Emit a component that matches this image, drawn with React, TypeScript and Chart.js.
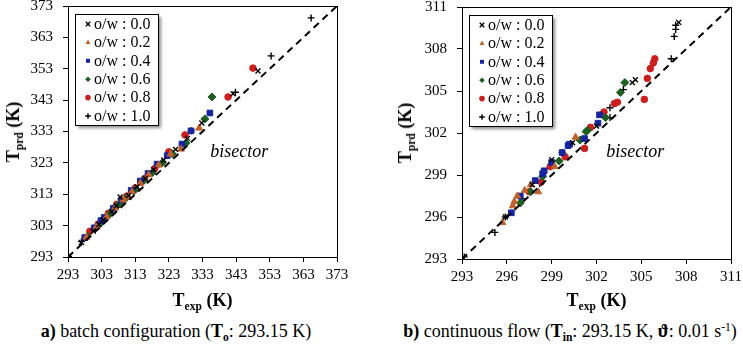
import React, { useEffect, useRef } from 'react';
import { Chart, registerables } from 'chart.js';

Chart.register(...registerables);

// ---------- shared series description ----------
const SERIES_LABELS = ['o/w : 0.0', 'o/w : 0.2', 'o/w : 0.4', 'o/w : 0.6', 'o/w : 0.8', 'o/w : 1.0'];
const SERIES_POINT_STYLES = ['crossRot', 'triangle', 'rect', 'rectRot', 'circle', 'cross'];
const SERIES_COLORS = ['#000000', '#C0602A', '#16249E', '#1E5E22', '#CC1E1E', '#000000'];
const SERIES_RADII = [3.5, 4, 4, 4, 3.3, 3.5];

// ---------- a) batch configuration ----------
const batchTicks = [293, 303, 313, 323, 333, 343, 353, 363, 373];

const batchExp00 = [297.0, 300.5, 302.2, 303.5, 306.0, 307.4, 308.5, 311.0, 313.5, 316.0, 318.5, 321.5, 325.0, 328.5, 332.8, 342.1, 349.5];
const batchPrd00 = [297.6, 301.3, 303.4, 304.8, 307.5, 309.3, 312.1, 312.6, 315.4, 318.0, 320.8, 323.9, 327.3, 330.8, 335.7, 345.0, 352.3];

const batchExp02 = [298.5, 301.5, 304.5, 307.0, 309.5, 311.0, 312.0, 314.5, 317.0, 320.0, 323.5, 326.6, 332.0];
const batchPrd02 = [299.3, 302.6, 305.8, 308.6, 311.2, 312.1, 313.8, 316.5, 319.2, 322.3, 325.8, 327.4, 334.1];

const batchExp04 = [298.0, 300.8, 302.8, 303.8, 306.5, 309.0, 311.8, 314.5, 316.8, 319.5, 322.5, 326.9, 329.6, 335.2];
const batchPrd04 = [299.2, 302.3, 304.6, 305.6, 308.5, 311.2, 314.2, 317.2, 319.6, 322.6, 325.3, 329.0, 333.2, 338.9];

const batchExp06 = [298.8, 302.5, 305.5, 308.0, 309.0, 310.0, 312.8, 315.5, 318.0, 321.0, 324.0, 328.1, 333.7, 335.8];
const batchPrd06 = [299.6, 303.6, 306.8, 309.7, 310.3, 311.6, 314.3, 317.3, 319.8, 323.0, 325.9, 329.3, 337.0, 344.0];

const batchExp08 = [299.5, 302.0, 305.0, 307.5, 310.5, 313.0, 315.8, 318.8, 323.0, 327.8, 340.6, 348.0];
const batchPrd08 = [301.2, 303.5, 306.9, 309.8, 312.4, 315.0, 318.0, 321.2, 326.5, 331.9, 344.0, 353.2];

const batchExp10 = [293.15, 297.0, 301.0, 304.0, 307.0, 309.5, 312.5, 315.0, 318.0, 321.0, 329.6, 342.8, 353.4, 365.3];
const batchPrd10 = [293.15, 297.9, 302.2, 305.5, 308.4, 311.4, 313.9, 316.8, 319.8, 323.0, 333.2, 345.5, 357.1, 369.2];

// ---------- b) continuous flow ----------
const flowTicks = [293, 296, 299, 302, 305, 308, 311];

const flowExp00 = [295.9, 297.7, 299.0, 300.4, 302.0, 304.4, 304.6, 307.5];
const flowPrd00 = [296.0, 298.3, 300.1, 301.3, 302.5, 305.6, 305.8, 309.9];

const flowExp02 = [295.7, 296.4, 296.5, 296.7, 297.2, 297.6, 298.1, 299.2, 300.6];
const flowPrd02 = [295.6, 296.8, 297.1, 297.5, 297.9, 298.3, 297.8, 299.6, 301.7];

const flowExp04 = [296.3, 296.9, 297.9, 298.4, 298.5, 299.0, 299.7, 300.1, 300.2, 301.2, 302.1, 302.2];
const flowPrd04 = [296.3, 297.5, 298.6, 299.1, 299.3, 299.9, 300.6, 301.1, 301.2, 301.6, 302.7, 303.3];

const flowExp06 = [296.9, 297.6, 298.4, 299.5, 300.9, 301.3, 301.4, 302.6, 303.6, 303.9];
const flowPrd06 = [297.0, 297.8, 298.9, 300.0, 301.5, 302.1, 302.2, 303.1, 304.9, 305.6];

const flowExp08 = [297.5, 298.3, 298.9, 299.9, 301.2, 301.6, 302.5, 303.2, 303.4, 305.2, 305.4, 305.6, 305.8, 305.9];
const flowPrd08 = [297.8, 298.5, 299.6, 300.3, 300.9, 302.4, 303.5, 304.1, 304.2, 304.4, 305.9, 306.6, 307.0, 307.3];

const flowExp10 = [293.15, 295.2, 295.9, 297.0, 298.2, 299.7, 302.9, 302.9, 303.8, 307.0, 307.2, 307.3, 307.3];
const flowPrd10 = [293.15, 294.9, 296.0, 297.3, 298.4, 300.6, 303.8, 303.1, 305.1, 307.3, 308.9, 309.4, 309.7];

const FONT = '"Liberation Serif"';

type Area = { left: number; top: number; right: number; bottom: number };

function drawMarker(ctx: CanvasRenderingContext2D, style: string, x: number, y: number, r: number, color: string) {
  ctx.save();
  ctx.fillStyle = color;
  ctx.strokeStyle = color;
  ctx.lineWidth = 1.4;
  ctx.beginPath();
  if (style === 'circle') {
    ctx.arc(x, y, r, 0, Math.PI * 2);
    ctx.fill();
  } else if (style === 'rect') {
    const s = r * Math.SQRT1_2;
    ctx.rect(x - s, y - s, 2 * s, 2 * s);
    ctx.fill();
  } else if (style === 'rectRot') {
    ctx.moveTo(x, y - r);
    ctx.lineTo(x + r, y);
    ctx.lineTo(x, y + r);
    ctx.lineTo(x - r, y);
    ctx.closePath();
    ctx.fill();
  } else if (style === 'triangle') {
    ctx.moveTo(x, y - r);
    ctx.lineTo(x + r * 0.9, y + r * 0.6);
    ctx.lineTo(x - r * 0.9, y + r * 0.6);
    ctx.closePath();
    ctx.fill();
  } else if (style === 'cross') {
    ctx.moveTo(x, y - r);
    ctx.lineTo(x, y + r);
    ctx.moveTo(x - r, y);
    ctx.lineTo(x + r, y);
    ctx.stroke();
  } else {
    const d = r * 0.8;
    ctx.moveTo(x - d, y - d);
    ctx.lineTo(x + d, y + d);
    ctx.moveTo(x + d, y - d);
    ctx.lineTo(x - d, y + d);
    ctx.stroke();
  }
  ctx.restore();
}

type PanelProps = {
  left: number;
  width: number;
  height: number;
  area: Area;
  ticks: number[];
  xs: number[][];
  ys: number[][];
  labelAt: { x: number; y: number };
};

function Panel({ left, width, height, area, ticks, xs, ys, labelAt }: PanelProps) {
  const ref = useRef<HTMLCanvasElement | null>(null);
  useEffect(() => {
    if (!ref.current) return;
    const min = ticks[0];
    const max = ticks[ticks.length - 1];
    const datasets: any[] = xs.map((xArr, i) => ({
      type: 'scatter',
      label: SERIES_LABELS[i],
      data: xArr.map((x, j) => ({ x, y: ys[i][j] })),
      pointStyle: SERIES_POINT_STYLES[i],
      pointRadius: SERIES_RADII[i],
      backgroundColor: SERIES_COLORS[i],
      borderColor: SERIES_COLORS[i],
      borderWidth: SERIES_POINT_STYLES[i].startsWith('cross') ? 1.4 : 1,
      order: 1,
    }));
    datasets.push({
      type: 'line',
      label: 'bisector',
      data: [
        { x: min, y: min },
        { x: max, y: max },
      ],
      borderColor: '#000',
      borderWidth: 2,
      borderDash: [7, 5],
      pointRadius: 0,
      fill: false,
      order: 0,
    });

    const framePlugin = {
      id: 'frameLegend',
      afterDraw(chart: any) {
        const ctx: CanvasRenderingContext2D = chart.ctx;
        const ca = chart.chartArea;
        ctx.save();
        ctx.strokeStyle = '#000';
        ctx.lineWidth = 1;
        ctx.strokeRect(Math.round(ca.left) + 0.5, Math.round(ca.top) + 0.5, Math.round(ca.right - ca.left), Math.round(ca.bottom - ca.top));
        // bisector label
        const px = chart.scales.x.getPixelForValue(labelAt.x);
        const py = chart.scales.y.getPixelForValue(labelAt.y);
        ctx.fillStyle = '#000';
        ctx.font = `italic 18px ${FONT}`;
        ctx.textAlign = 'center';
        ctx.textBaseline = 'middle';
        ctx.fillText('bisector', px, py);
        // legend
        const lx = Math.round(ca.left) + 7;
        const ly = Math.round(ca.top) + 8;
        const lw = 83;
        const lh = 111;
        ctx.save();
        ctx.shadowColor = 'rgba(0,0,0,0.45)';
        ctx.shadowBlur = 3;
        ctx.shadowOffsetX = 3;
        ctx.shadowOffsetY = 3;
        ctx.fillStyle = '#fff';
        ctx.fillRect(lx, ly, lw, lh);
        ctx.restore();
        ctx.strokeStyle = '#000';
        ctx.lineWidth = 1;
        ctx.strokeRect(lx + 0.5, ly + 0.5, lw, lh);
        ctx.font = `16px ${FONT}`;
        ctx.textAlign = 'left';
        ctx.textBaseline = 'middle';
        SERIES_LABELS.forEach((lab, i) => {
          const cy = ly + 10 + i * 18.4;
          drawMarker(ctx, SERIES_POINT_STYLES[i], lx + 13, cy, 2.8, SERIES_COLORS[i]);
          ctx.fillStyle = '#000';
          ctx.fillText(lab, lx + 19, cy + 0.5);
        });
        ctx.restore();
      },
    };

    const tickFont = { family: FONT, size: 15 };
    const chart = new Chart(ref.current, {
      type: 'scatter',
      data: { datasets },
      options: {
        animation: false,
        responsive: false,
        devicePixelRatio: 1,
        layout: { padding: { left: 0, top: area.top, right: width - area.right, bottom: 0 } },
        plugins: { legend: { display: false }, tooltip: { enabled: false } },
        scales: {
          x: {
            type: 'linear',
            min,
            max,
            afterBuildTicks: (scale: any) => {
              scale.ticks = ticks.map((v) => ({ value: v }));
            },
            afterFit: (scale: any) => {
              scale.height = height - area.bottom;
              scale.paddingLeft = 0;
              scale.paddingRight = 0;
            },
            grid: { display: true, drawOnChartArea: false, drawTicks: true, tickLength: 5, color: '#000' },
            border: { display: true, color: '#000', width: 1 },
            ticks: { font: tickFont, color: '#000', padding: 4, maxRotation: 0, autoSkip: false, callback: (v: any) => String(v) },
          },
          y: {
            type: 'linear',
            min,
            max,
            afterBuildTicks: (scale: any) => {
              scale.ticks = ticks.map((v) => ({ value: v }));
            },
            afterFit: (scale: any) => {
              scale.width = area.left;
              scale.paddingTop = 0;
              scale.paddingBottom = 0;
            },
            grid: { display: true, drawOnChartArea: false, drawTicks: true, tickLength: 5, color: '#000' },
            border: { display: true, color: '#000', width: 1 },
            ticks: { font: tickFont, color: '#000', padding: 10, autoSkip: false, callback: (v: any) => String(v) },
          },
        },
      } as any,
      plugins: [framePlugin],
    });
    return () => chart.destroy();
  }, []);
  return (
    <canvas
      ref={ref}
      width={width}
      height={height}
      style={{ position: 'absolute', left, top: 0, width, height, display: 'block' }}
    />
  );
}

const bold: React.CSSProperties = {
  position: 'absolute',
  fontFamily: FONT,
  fontWeight: 700,
  fontSize: 18,
  lineHeight: '18px',
  whiteSpace: 'nowrap',
  color: '#000',
};
const subStyle: React.CSSProperties = { fontSize: '0.64em', verticalAlign: '-0.32em', lineHeight: 0 };
const supStyle: React.CSSProperties = { fontSize: '0.64em', verticalAlign: '0.5em', lineHeight: 0 };
const caption: React.CSSProperties = {
  position: 'absolute',
  fontFamily: FONT,
  fontWeight: 400,
  fontSize: 18,
  lineHeight: '18px',
  whiteSpace: 'nowrap',
  color: '#000',
  transform: 'translateX(-50%)',
};

function YTitle({ cx, cy }: { cx: number; cy: number }) {
  return (
    <div style={{ ...bold, left: cx, top: cy, transform: 'translate(-50%,-50%) rotate(-90deg)' }}>
      T<span style={subStyle}>prd</span> (K)
    </div>
  );
}

function XTitle({ cx, top }: { cx: number; top: number }) {
  return (
    <div style={{ ...bold, left: cx, top, transform: 'translateX(-50%)' }}>
      T<span style={subStyle}>exp</span> (K)
    </div>
  );
}

export default function App() {
  return (
    <div style={{ position: 'absolute', left: 0, top: 0, width: 743, height: 350, background: '#fff', overflow: 'hidden' }}>
      <Panel
        left={0}
        width={372}
        height={292}
        area={{ left: 68, top: 6, right: 337, bottom: 257 }}
        ticks={batchTicks}
        xs={[batchExp00, batchExp02, batchExp04, batchExp06, batchExp08, batchExp10]}
        ys={[batchPrd00, batchPrd02, batchPrd04, batchPrd06, batchPrd08, batchPrd10]}
        labelAt={{ x: 343.9, y: 326.5 }}
      />
      <Panel
        left={372}
        width={371}
        height={292}
        area={{ left: 90, top: 7, right: 359, bottom: 259 }}
        ticks={flowTicks}
        xs={[flowExp00, flowExp02, flowExp04, flowExp06, flowExp08, flowExp10]}
        ys={[flowPrd00, flowPrd02, flowPrd04, flowPrd06, flowPrd08, flowPrd10]}
        labelAt={{ x: 304.6, y: 300.6 }}
      />
      <YTitle cx={12.5} cy={131.5} />
      <YTitle cx={404.5} cy={133} />
      <XTitle cx={202.5} top={291} />
      <XTitle cx={596.5} top={291} />
      <div style={{ ...caption, left: 176, top: 322 }}>
        <b>a)</b> batch configuration (<b>T<span style={subStyle}>o</span></b>: 293.15 K)
      </div>
      <div style={{ ...caption, left: 570, top: 322 }}>
        <b>b)</b> continuous flow (<b>T<span style={subStyle}>in</span></b>: 293.15 K, <b>ϑ</b>: 0.01 s<span style={supStyle}>-1</span>)
      </div>
    </div>
  );
}
